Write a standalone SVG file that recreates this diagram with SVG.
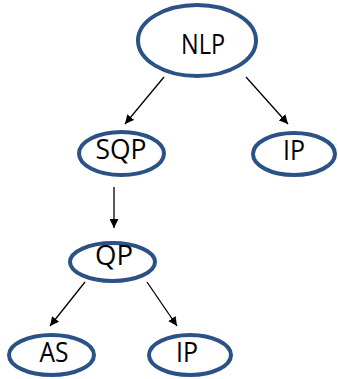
<svg xmlns="http://www.w3.org/2000/svg" width="338" height="379" viewBox="0 0 338 379">
<defs>
<marker id="ah" viewBox="0 0 10 10" refX="10" refY="5" markerWidth="9" markerHeight="9" markerUnits="userSpaceOnUse" orient="auto">
<path d="M0,0 L10,5 L0,10 z" fill="#000"/>
</marker>
<style>
.n{fill:#fff;stroke:#2b5287;stroke-width:4}
.t{font-family:"Open Sans","Liberation Sans",sans-serif;font-size:27px;fill:#000;text-anchor:middle}
.c line{stroke:#000;stroke-width:1.3;marker-end:url(#ah)}
</style>
</defs>
<rect width="338" height="379" fill="#fff"/>
<g class="c" id="connectors">
<line x1="164" y1="77" x2="125" y2="124"/>
<line x1="246" y1="77" x2="288" y2="124"/>
<line x1="114" y1="187" x2="114" y2="228"/>
<line x1="85" y1="282" x2="50" y2="326"/>
<line x1="147" y1="282" x2="177" y2="326"/>
</g>
<g id="nlp"><ellipse class="n" cx="197" cy="40.5" rx="59" ry="35.5"/><text class="t" x="203" y="53.5" textLength="44" lengthAdjust="spacingAndGlyphs">NLP</text></g>
<g id="sqp"><ellipse class="n" cx="121.5" cy="153.5" rx="42.5" ry="21.5"/><text class="t" x="121" y="159" textLength="51" lengthAdjust="spacingAndGlyphs">SQP</text></g>
<g id="ip1"><ellipse class="n" cx="294" cy="154" rx="41" ry="21"/><text class="t" x="294" y="160" textLength="22" lengthAdjust="spacingAndGlyphs">IP</text></g>
<g id="qp"><ellipse class="n" cx="112.5" cy="262" rx="42.5" ry="19"/><text class="t" x="114" y="265" textLength="38" lengthAdjust="spacingAndGlyphs">QP</text></g>
<g id="as"><ellipse class="n" cx="51.5" cy="355" rx="42.5" ry="20"/><text class="t" x="54" y="362" textLength="29" lengthAdjust="spacingAndGlyphs">AS</text></g>
<g id="ip2"><ellipse class="n" cx="190" cy="355" rx="41" ry="20"/><text class="t" x="187" y="362" textLength="22" lengthAdjust="spacingAndGlyphs">IP</text></g>
</svg>
